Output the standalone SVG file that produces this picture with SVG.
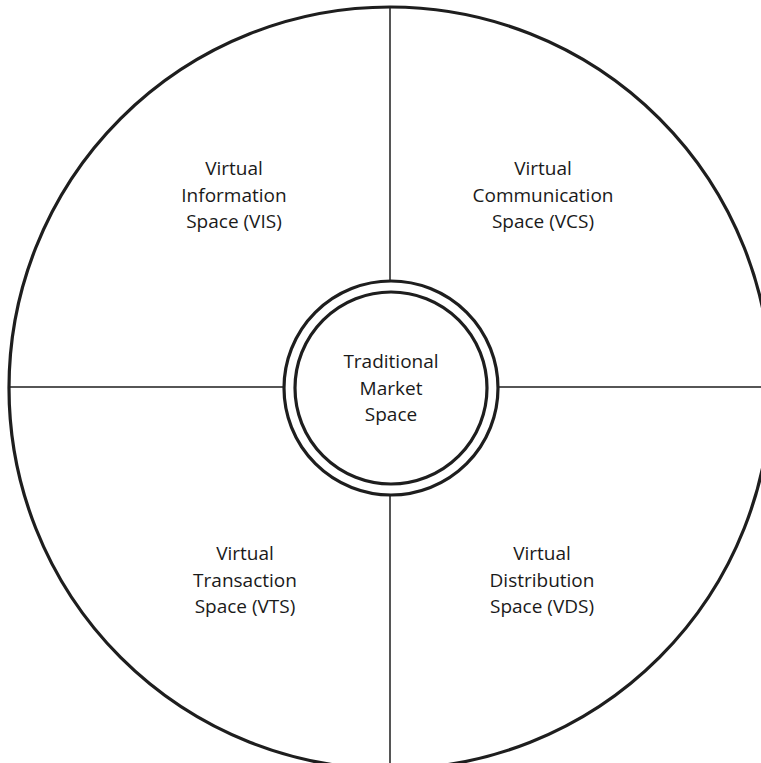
<svg xmlns="http://www.w3.org/2000/svg" width="761" height="763" viewBox="0 0 761 763">
<style>
.ring{fill:none;stroke:#1e1e1e;stroke-width:3.2}
.div{stroke:#1e1e1e;stroke-width:1.5}
text{font-family:"Open Sans","Noto Sans","DejaVu Sans",sans-serif;font-size:19px;fill:#1a1a1a;text-anchor:middle}
</style>
<rect width="761" height="763" fill="#fff"/>
<g id="outer-circle"><circle class="ring" cx="390" cy="388" r="381"/></g>
<g id="connectors">
<line class="div" x1="390" y1="8" x2="390" y2="282"/>
<line class="div" x1="390" y1="494" x2="390" y2="763"/>
<line class="div" x1="9" y1="387" x2="284" y2="387"/>
<line class="div" x1="499" y1="387" x2="761" y2="387"/>
</g>
<g id="center">
<circle class="ring" cx="391" cy="388" r="107"/>
<circle class="ring" cx="391" cy="388" r="96"/>
<text x="391" y="368">Traditional</text>
<text x="391" y="395">Market</text>
<text x="391" y="421">Space</text>
</g>
<g id="vis">
<text x="234" y="175">Virtual</text>
<text x="234" y="202">Information</text>
<text x="234" y="228">Space (VIS)</text>
</g>
<g id="vcs">
<text x="543" y="175">Virtual</text>
<text x="543" y="202">Communication</text>
<text x="543" y="228">Space (VCS)</text>
</g>
<g id="vts">
<text x="245" y="560">Virtual</text>
<text x="245" y="587">Transaction</text>
<text x="245" y="613">Space (VTS)</text>
</g>
<g id="vds">
<text x="542" y="560">Virtual</text>
<text x="542" y="587">Distribution</text>
<text x="542" y="613">Space (VDS)</text>
</g>
</svg>
